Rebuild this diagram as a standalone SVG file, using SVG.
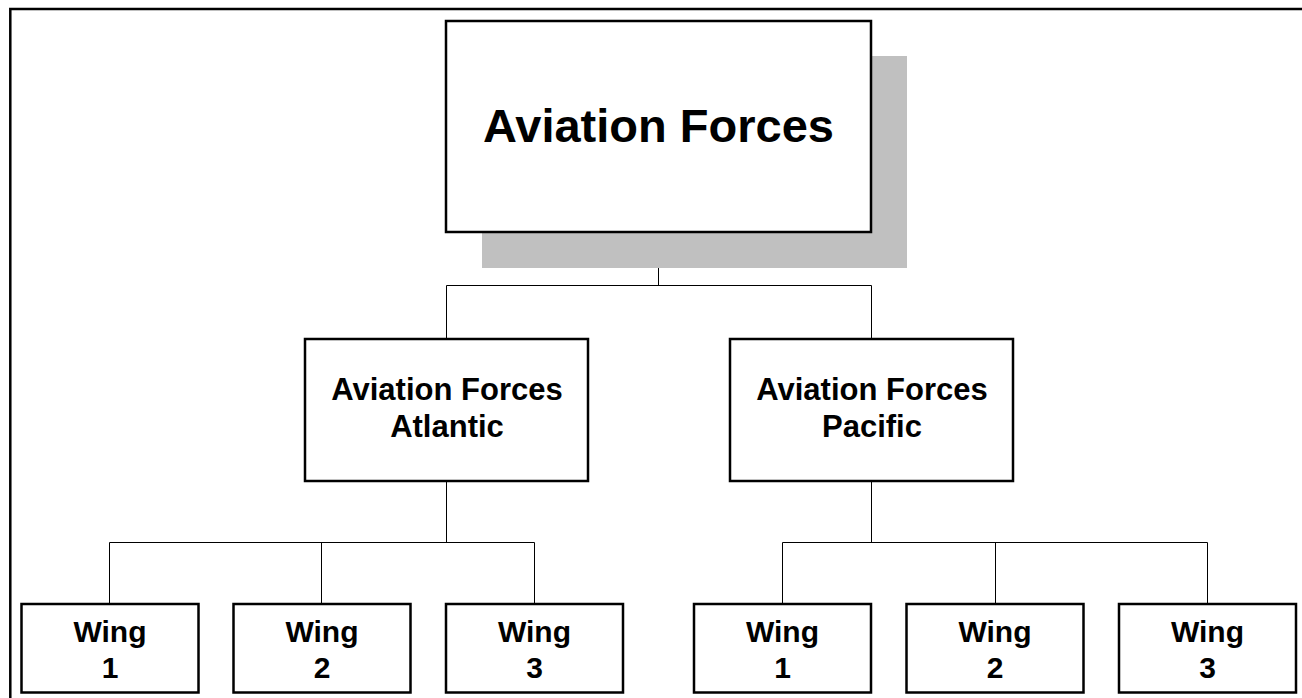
<svg xmlns="http://www.w3.org/2000/svg" width="1302" height="698" viewBox="0 0 1302 698">
<style>
.box{fill:#fff;stroke:#000;stroke-width:2.5}
.shadow{fill:#c0c0c0}
.conn{fill:none;stroke:#000;stroke-width:1}
.frame{fill:none;stroke:#000;stroke-width:2.5}
text{font-family:"Liberation Sans",Arial,sans-serif;font-weight:bold;fill:#000;text-anchor:middle}
.t1{font-size:47px}
.t2{font-size:31px}
.t3{font-size:30px}
</style>
<rect width="1302" height="698" fill="#fff"/>
<path class="frame" d="M10.3,700 V9 H1304"/>
<g id="connectors">
<path class="conn" d="M658.5,232 V285.5 M446.5,285.5 H871.5 M446.5,285.5 V339 M871.5,285.5 V339"/>
<path class="conn" d="M446.5,481 V542.5 M109.5,542.5 H534.5 M109.5,542.5 V604 M321.5,542.5 V604 M534.5,542.5 V604"/>
<path class="conn" d="M871.5,481 V542.5 M782.5,542.5 H1207.5 M782.5,542.5 V604 M995.5,542.5 V604 M1207.5,542.5 V604"/>
</g>
<g id="aviation-forces">
<rect class="shadow" x="482" y="56" width="425" height="212"/>
<rect class="box" x="446" y="21" width="425" height="211"/>
<text class="t1" x="658.5" y="141.5">Aviation Forces</text>
</g>
<g id="af-atlantic">
<rect class="box" x="305" y="339" width="283" height="142"/>
<text class="t2" x="447" y="400">Aviation Forces</text>
<text class="t2" x="447" y="437">Atlantic</text>
</g>
<g id="af-pacific">
<rect class="box" x="730" y="339" width="283" height="142"/>
<text class="t2" x="872" y="400">Aviation Forces</text>
<text class="t2" x="872" y="437">Pacific</text>
</g>
<g id="atl-wing1">
<rect class="box" x="21.5" y="604" width="177" height="88.5"/>
<text class="t3" x="110" y="641.5">Wing</text>
<text class="t3" x="110" y="677.5">1</text>
</g>
<g id="atl-wing2">
<rect class="box" x="233.5" y="604" width="177" height="88.5"/>
<text class="t3" x="322" y="641.5">Wing</text>
<text class="t3" x="322" y="677.5">2</text>
</g>
<g id="atl-wing3">
<rect class="box" x="446" y="604" width="177" height="88.5"/>
<text class="t3" x="534.5" y="641.5">Wing</text>
<text class="t3" x="534.5" y="677.5">3</text>
</g>
<g id="pac-wing1">
<rect class="box" x="694" y="604" width="177" height="88.5"/>
<text class="t3" x="782.5" y="641.5">Wing</text>
<text class="t3" x="782.5" y="677.5">1</text>
</g>
<g id="pac-wing2">
<rect class="box" x="906.5" y="604" width="177" height="88.5"/>
<text class="t3" x="995" y="641.5">Wing</text>
<text class="t3" x="995" y="677.5">2</text>
</g>
<g id="pac-wing3">
<rect class="box" x="1119" y="604" width="177" height="88.5"/>
<text class="t3" x="1207.5" y="641.5">Wing</text>
<text class="t3" x="1207.5" y="677.5">3</text>
</g>
</svg>
